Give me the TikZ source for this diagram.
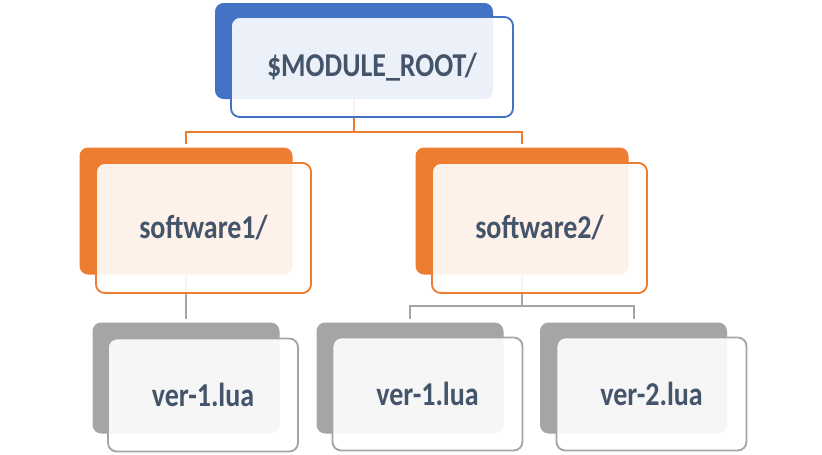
\documentclass[tikz,border=0pt]{standalone}
\usepackage{fontspec}
\usepackage{graphicx}
\usepackage{tikz}
\setmainfont{Carlito}
\usetikzlibrary{positioning, calc}
\definecolor{rootblue}{HTML}{4472C4}
\definecolor{dirorange}{HTML}{ED7D31}
\definecolor{filegray}{HTML}{A5A5A5}
\definecolor{textdark}{HTML}{44546A}
\newcommand{\boxtext}[1]{\scalebox{0.84}[1]{#1}}
\tikzset{
    backbox/.style={fill=#1, rounded corners=6.5pt, inner sep=0pt},
    frontbox/.style={draw=#1, line width=1.4pt, fill=white, fill opacity=0.9, text opacity=1,
        rounded corners=6.5pt, inner sep=0pt, text=textdark, font=\bfseries\fontsize{25}{30}\selectfont},
    link/.style={draw=#1, line width=1.5pt, shorten >=2.25pt}
}

\begin{document}
\begin{tikzpicture}[x=0.75pt, y=-0.75pt]
    % Canvas
    \useasboundingbox (0,0) rectangle (822,454);

    % Back boxes
    \node[backbox=rootblue, minimum width=208.5pt, minimum height=72pt] (rootback) at (354,51) {};
    \node[backbox=dirorange, minimum width=159.75pt, minimum height=95.25pt] (sw1back) at (186,211) {};
    \node[backbox=dirorange, minimum width=159.75pt, minimum height=95.25pt] (sw2back) at (522,211) {};
    \node[backbox=filegray, minimum width=140.25pt, minimum height=83.25pt] (ver1aback) at (186,378) {};
    \node[backbox=filegray, minimum width=140.25pt, minimum height=83.25pt] (ver1bback) at (410,378) {};
    \node[backbox=filegray, minimum width=140.25pt, minimum height=83.25pt] (ver2back) at (633.5,378) {};

    % Connectors
    \draw[link=dirorange] (rootback.south) -- ++(0,33) coordinate (rootbus) -| (sw1back.north);
    \draw[link=dirorange] (rootbus) -| (sw2back.north);
    \draw[link=filegray] (sw1back.south) -- (ver1aback.north);
    \draw[link=filegray] (sw2back.south) -- ++(0,31.5) coordinate (swbus) -| (ver1bback.north);
    \draw[link=filegray] (swbus) -| (ver2back.north);

    % Front boxes
    \node[frontbox=rootblue, minimum width=211.5pt, minimum height=75pt] (root) at (372,67) {\boxtext{\$MODULE\_ROOT/}};
    \node[frontbox=dirorange, minimum width=161.25pt, minimum height=97.5pt] (sw1) at (203.5,228) {\boxtext{software1/}};
    \node[frontbox=dirorange, minimum width=161.25pt, minimum height=97.5pt] (sw2) at (539.5,228) {\boxtext{software2/}};
    \node[frontbox=filegray, minimum width=142.5pt, minimum height=84.75pt] (ver1a) at (203,395) {\boxtext{ver-1.lua}};
    \node[frontbox=filegray, minimum width=142.5pt, minimum height=84.75pt] (ver1b) at (427.5,394) {\boxtext{ver-1.lua}};
    \node[frontbox=filegray, minimum width=142.5pt, minimum height=84.75pt] (ver2) at (651.5,394) {\boxtext{ver-2.lua}};
\end{tikzpicture}
\end{document}
